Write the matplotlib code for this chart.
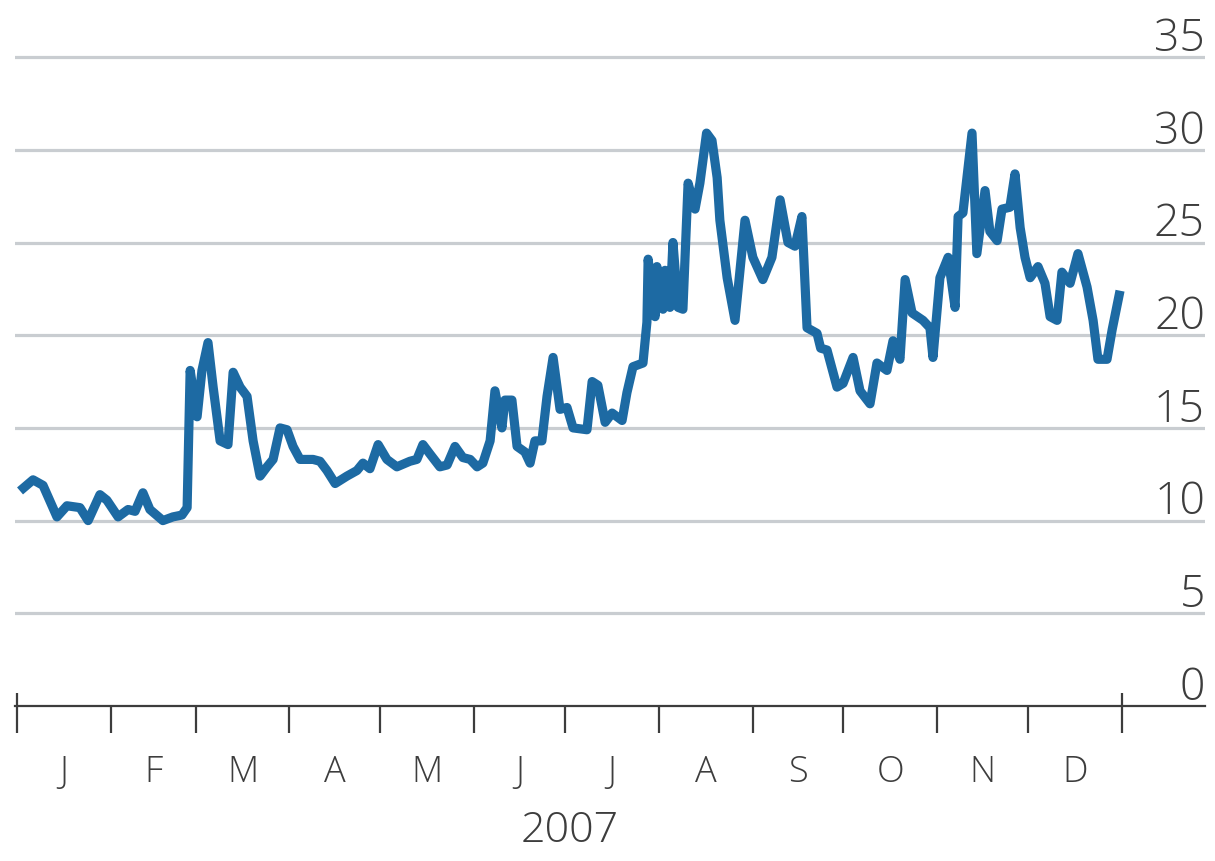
import matplotlib
matplotlib.use("Agg")
import matplotlib.pyplot as plt

# ---- data: day of year 2007 (0 = 1 Jan) and index level ----
days = [1.0, 5.3, 8.6, 13.2, 16.5, 20.8, 23.5, 27.4, 29.7, 33.4, 36.7, 39.0, 41.6, 43.9,
        48.2, 51.5, 54.5, 56.2, 57.2, 59.5, 61.1, 63.1, 64.8, 67.1, 69.7, 71.4, 73.7,
        76.0, 78.0, 80.3, 82.6, 84.6, 86.9, 89.2, 91.2, 93.5, 97.8, 100.1, 102.4, 105.1,
        109.0, 112.3, 114.3, 116.6, 119.3, 122.2, 125.5, 129.8, 132.1, 134.1, 136.4,
        139.7, 142.1, 144.7, 147.3, 149.7, 152.0, 153.9, 156.3, 157.9, 160.2, 161.2,
        163.5, 165.2, 167.8, 169.5, 171.1, 173.4, 175.1, 177.1, 179.4, 181.7, 183.7,
        188.3, 190.0, 191.9, 194.3, 196.6, 199.9, 201.5, 203.5, 206.8, 208.1, 208.5,
        210.8, 211.4, 213.4, 214.1, 215.7, 216.7, 218.4, 220.0, 221.7, 224.0, 225.6,
        227.8, 229.6, 231.3, 232.2, 234.6, 237.2, 240.5, 243.1, 246.4, 249.4, 252.1,
        254.7, 257.0, 259.3, 261.0, 264.3, 265.5, 267.6, 270.9, 272.9, 276.2, 278.5,
        281.8, 284.1, 287.4, 289.4, 291.7, 293.4, 295.7, 299.3, 301.6, 302.6, 304.9,
        307.6, 309.9, 310.9, 312.5, 315.5, 317.1, 319.8, 321.4, 323.8, 325.4, 328.0,
        329.7, 331.4, 333.0, 334.7, 337.3, 339.6, 341.3, 343.6, 345.2, 347.9, 350.5,
        353.5, 355.5, 357.1, 360.1, 361.8, 364.4]
values = [11.6, 12.2, 11.9, 10.2, 10.8, 10.7, 10.0, 11.4, 11.1, 10.2, 10.6, 10.5, 11.5, 10.6,
          10.0, 10.2, 10.3, 10.7, 18.1, 15.6, 18.1, 19.6, 17.2, 14.3, 14.1, 18.0, 17.2,
          16.7, 14.3, 12.4, 12.9, 13.3, 15.0, 14.9, 14.0, 13.3, 13.3, 13.2, 12.7, 12.0,
          12.4, 12.7, 13.1, 12.8, 14.1, 13.3, 12.9, 13.2, 13.3, 14.1, 13.6,
          12.9, 13.0, 14.0, 13.4, 13.3, 12.9, 13.1, 14.3, 17.0, 15.0, 16.5,
          16.5, 14.0, 13.7, 13.1, 14.3, 14.3, 16.7, 18.8, 16.0, 16.1, 15.0,
          14.9, 17.5, 17.3, 15.3, 15.8, 15.4, 16.9, 18.3, 18.5, 20.7, 24.1,
          21.0, 23.7, 21.4, 23.5, 21.5, 25.0, 21.5, 21.4, 28.2, 26.8, 28.2,
          30.9, 30.5, 28.5, 26.2, 23.1, 20.8, 26.2, 24.2, 23.0, 24.2, 27.3,
          25.0, 24.8, 26.4, 20.4, 20.1, 19.3, 19.2, 17.2, 17.4, 18.8, 17.0,
          16.3, 18.5, 18.1, 19.7, 18.7, 23.0, 21.2, 20.8, 20.4, 18.8, 23.1,
          24.2, 21.5, 26.4, 26.6, 30.9, 24.4, 27.8, 25.6, 25.1, 26.8, 26.9,
          28.7, 25.8, 24.2, 23.1, 23.7, 22.8, 21.0, 20.8, 23.4, 22.8, 24.4,
          22.6, 20.8, 18.7, 18.7, 20.3, 22.4]

month_labels = ["J", "F", "M", "A", "M", "J", "J", "A", "S", "O", "N", "D"]
month_starts = [0, 31, 59, 90, 120, 151, 181, 212, 243, 273, 304, 334, 365]
y_ticks = [0, 5, 10, 15, 20, 25, 30, 35]
year_label = "2007"

# ---- style ----
plt.rcParams["font.family"] = ["Open Sans", "DejaVu Sans"]
LINE = "#1d6aa3"
GRID = "#c9cdd1"
TEXT = "#3d3d3d"

W, H = 1215, 861
fig = plt.figure(figsize=(W / 100, H / 100), dpi=100)
fig.patch.set_facecolor("white")
px_per_unit = 18.54
top_px = 48
ax = fig.add_axes([15 / W, (H - 706) / H, 1190 / W, (706 - top_px) / H])
ax.set_xlim(-0.66, -0.66 + 1190 / 3.027)
ax.set_ylim(0, (706 - top_px) / px_per_unit)
ax.axis("off")

# gridlines and labels
for v in y_ticks:
    if v == 0:
        ax.axhline(v, color="#3c3c3c", lw=1.6, zorder=3, clip_on=False)
    else:
        ax.axhline(v, color=GRID, lw=2.3, zorder=1)
    ax.text(ax.get_xlim()[1], v + 0.33, str(v), ha="right", va="baseline",
            fontsize=32, fontweight="light", color=TEXT, zorder=4)

# month ticks
down = -27 / px_per_unit
up = 13 / px_per_unit
for i, d in enumerate(month_starts):
    top = up if i in (0, len(month_starts) - 1) else 0
    ax.plot([d, d], [down, top], color="#3c3c3c", lw=1.6, clip_on=False,
            solid_capstyle="butt", zorder=3)
for i, lab in enumerate(month_labels):
    mid = (month_starts[i] + month_starts[i + 1]) / 2
    ax.text(mid, -3.6, lab, ha="center", va="center", fontsize=26,
            fontweight="light", color=TEXT, clip_on=False)
ax.text(182.7, -6.75, year_label, ha="center", va="center", fontsize=31,
        fontweight="light", color=TEXT, clip_on=False)

# series
ax.plot(days, values, color=LINE, lw=6.6, solid_joinstyle="round",
        solid_capstyle="butt", zorder=5, clip_on=False)

fig.savefig("out.png", dpi=100, facecolor="white")
